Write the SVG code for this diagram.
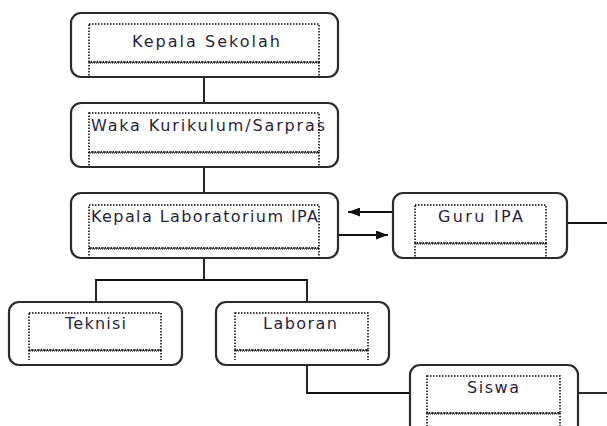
<svg xmlns="http://www.w3.org/2000/svg" width="607" height="426" viewBox="0 0 607 426">
<style>
.box{fill:#fff;stroke:#2b2b2b;stroke-width:2.2}
.dot{fill:none;stroke:#000;stroke-width:1.5;stroke-dasharray:1.5 1.5}
.wav{fill:none;stroke:#000;stroke-width:1.2;stroke-dasharray:1 1}
.wav2{fill:none;stroke:#000;stroke-width:1.2;stroke-dasharray:1 1;stroke-dashoffset:1}
.ln{fill:none;stroke:#111;stroke-width:1.8}
.t{font-family:"DejaVu Sans",Verdana,sans-serif;font-size:16px;fill:#2a1f3a;text-anchor:start}
</style>
<defs>
<marker id="ah" viewBox="0 0 12 9" refX="12" refY="4.5" markerWidth="12" markerHeight="9" markerUnits="userSpaceOnUse" orient="auto">
<path d="M0,0 L12,4.5 L0,9 Z" fill="#111"/>
</marker>
</defs>
<rect width="607" height="426" fill="#fff"/>

<g id="connectors">
<line class="ln" x1="204" y1="77" x2="204" y2="103"/>
<line class="ln" x1="204" y1="167" x2="204" y2="193"/>
<polyline class="ln" points="204,258 204,280"/>
<polyline class="ln" points="96,302 96,280 307,280 307,302"/>
<polyline class="ln" points="307,365 307,393 410,393"/>
<line class="ln" x1="393" y1="212" x2="348" y2="212" marker-end="url(#ah)"/>
<line class="ln" x1="338" y1="235" x2="388" y2="235" marker-end="url(#ah)"/>
<line class="ln" x1="567" y1="223" x2="607" y2="223"/>
<line class="ln" x1="578" y1="393" x2="607" y2="393"/>
</g>

<g id="kepala-sekolah">
<rect class="box" x="71" y="13" width="267" height="64" rx="10"/>
<rect class="dot" x="89" y="24" width="230" height="38"/>
<path class="dot" d="M89,62 V77 M319,62 V77"/>
<line class="wav" x1="89" y1="62" x2="319" y2="62"/><line class="wav2" x1="89" y1="63" x2="319" y2="63"/>
<text class="t" x="132" y="47" textLength="148" lengthAdjust="spacing">Kepala Sekolah</text>
</g>

<g id="waka">
<rect class="box" x="71" y="103" width="267" height="64" rx="10"/>
<rect class="dot" x="89" y="113" width="230" height="39"/>
<path class="dot" d="M89,152 V167 M319,152 V167"/>
<line class="wav" x1="89" y1="152" x2="319" y2="152"/><line class="wav2" x1="89" y1="153" x2="319" y2="153"/>
<text class="t" x="91" y="131" textLength="234" lengthAdjust="spacing">Waka Kurikulum/Sarpras</text>
</g>

<g id="kepala-lab">
<rect class="box" x="71" y="193" width="267" height="65" rx="10"/>
<rect class="dot" x="89" y="205" width="230" height="43"/>
<path class="dot" d="M89,248 V258 M319,248 V258"/>
<line class="wav" x1="89" y1="248" x2="319" y2="248"/><line class="wav2" x1="89" y1="249" x2="319" y2="249"/>
<text class="t" x="91" y="222" textLength="227" lengthAdjust="spacing">Kepala Laboratorium IPA</text>
</g>

<g id="guru-ipa">
<rect class="box" x="393" y="193" width="174" height="65" rx="10"/>
<rect class="dot" x="415" y="205" width="131" height="38"/>
<path class="dot" d="M415,243 V258 M546,243 V258"/>
<line class="wav" x1="415" y1="243" x2="546" y2="243"/><line class="wav2" x1="415" y1="244" x2="546" y2="244"/>
<text class="t" x="438" y="222" textLength="85" lengthAdjust="spacing">Guru IPA</text>
</g>

<g id="teknisi">
<rect class="box" x="9" y="302" width="173" height="63" rx="10"/>
<rect class="dot" x="29" y="313" width="132" height="37"/>
<path class="dot" d="M29,350 V360 M161,350 V360"/>
<line class="wav" x1="29" y1="350" x2="161" y2="350"/><line class="wav2" x1="29" y1="351" x2="161" y2="351"/>
<text class="t" x="65" y="329" textLength="61" lengthAdjust="spacing">Teknisi</text>
</g>

<g id="laboran">
<rect class="box" x="216" y="302" width="173" height="63" rx="10"/>
<rect class="dot" x="235" y="313" width="133" height="37"/>
<path class="dot" d="M235,350 V360 M368,350 V360"/>
<line class="wav" x1="235" y1="350" x2="368" y2="350"/><line class="wav2" x1="235" y1="351" x2="368" y2="351"/>
<text class="t" x="263" y="329" textLength="74" lengthAdjust="spacing">Laboran</text>
</g>

<g id="siswa">
<rect class="box" x="410" y="365" width="168" height="75" rx="10"/>
<rect class="dot" x="427" y="376" width="133" height="37"/>
<path class="dot" d="M427,413 V430 M560,413 V430"/>
<line class="wav" x1="427" y1="413" x2="560" y2="413"/><line class="wav2" x1="427" y1="414" x2="560" y2="414"/>
<text class="t" x="467" y="393" textLength="52" lengthAdjust="spacing">Siswa</text>
</g>
</svg>
